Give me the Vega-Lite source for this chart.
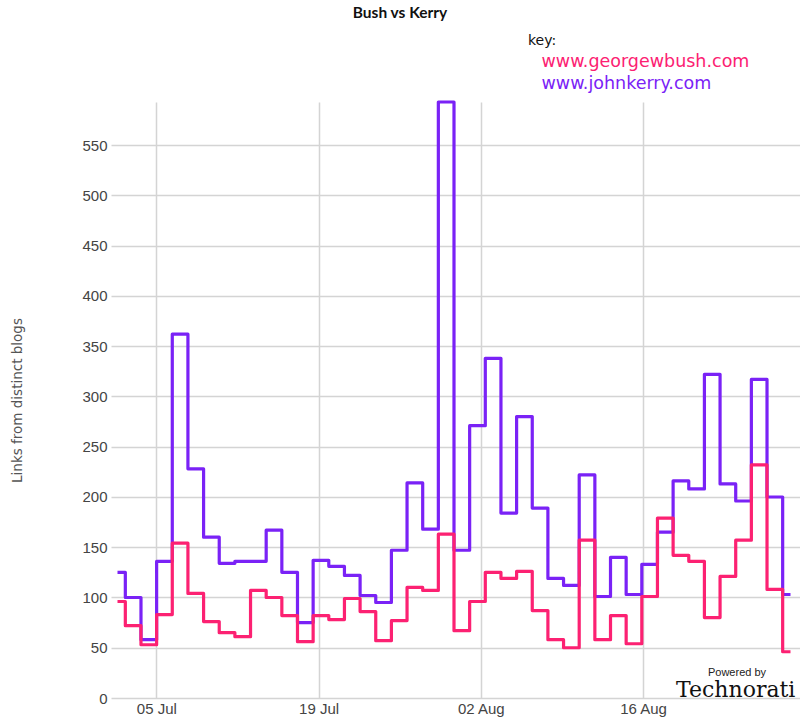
{
  "$schema": "https://vega.github.io/schema/vega-lite/v6.json",
  "autosize": {"type": "none"},
  "padding": {"left": 111, "top": 102, "right": 0, "bottom": 20},
  "width": 689,
  "height": 596,
  "background": "white",
  "title": {"text": "Bush vs Kerry", "font": "Lato", "fontSize": 15.5, "fontWeight": "bold", "color": "#111", "anchor": "middle", "dx": -55.5, "offset": 13},
  "config": {"view": {"stroke": null}},
  "layer": [
    {
      "data": {"values": [
        {"date": "2004-07-01T15:39", "site": "www.johnkerry.com", "links": 125},
        {"date": "2004-07-03T00:04", "site": "www.johnkerry.com", "links": 100},
        {"date": "2004-07-04T08:28", "site": "www.johnkerry.com", "links": 58},
        {"date": "2004-07-05T16:53", "site": "www.johnkerry.com", "links": 136},
        {"date": "2004-07-07T01:17", "site": "www.johnkerry.com", "links": 362},
        {"date": "2004-07-08T09:42", "site": "www.johnkerry.com", "links": 228},
        {"date": "2004-07-09T18:07", "site": "www.johnkerry.com", "links": 160},
        {"date": "2004-07-11T02:31", "site": "www.johnkerry.com", "links": 134},
        {"date": "2004-07-12T10:56", "site": "www.johnkerry.com", "links": 136},
        {"date": "2004-07-13T19:20", "site": "www.johnkerry.com", "links": 136},
        {"date": "2004-07-15T03:45", "site": "www.johnkerry.com", "links": 167},
        {"date": "2004-07-16T12:10", "site": "www.johnkerry.com", "links": 125},
        {"date": "2004-07-17T20:34", "site": "www.johnkerry.com", "links": 75},
        {"date": "2004-07-19T04:59", "site": "www.johnkerry.com", "links": 137},
        {"date": "2004-07-20T13:23", "site": "www.johnkerry.com", "links": 131},
        {"date": "2004-07-21T21:48", "site": "www.johnkerry.com", "links": 122},
        {"date": "2004-07-23T06:13", "site": "www.johnkerry.com", "links": 102},
        {"date": "2004-07-24T14:37", "site": "www.johnkerry.com", "links": 95},
        {"date": "2004-07-25T23:02", "site": "www.johnkerry.com", "links": 147},
        {"date": "2004-07-27T07:26", "site": "www.johnkerry.com", "links": 214},
        {"date": "2004-07-28T15:51", "site": "www.johnkerry.com", "links": 168},
        {"date": "2004-07-30T00:16", "site": "www.johnkerry.com", "links": 593},
        {"date": "2004-07-31T08:40", "site": "www.johnkerry.com", "links": 147},
        {"date": "2004-08-01T17:05", "site": "www.johnkerry.com", "links": 271},
        {"date": "2004-08-03T01:29", "site": "www.johnkerry.com", "links": 338},
        {"date": "2004-08-04T09:54", "site": "www.johnkerry.com", "links": 184},
        {"date": "2004-08-05T18:19", "site": "www.johnkerry.com", "links": 280},
        {"date": "2004-08-07T02:43", "site": "www.johnkerry.com", "links": 189},
        {"date": "2004-08-08T11:08", "site": "www.johnkerry.com", "links": 119},
        {"date": "2004-08-09T19:32", "site": "www.johnkerry.com", "links": 112},
        {"date": "2004-08-11T03:57", "site": "www.johnkerry.com", "links": 222},
        {"date": "2004-08-12T12:22", "site": "www.johnkerry.com", "links": 101},
        {"date": "2004-08-13T20:46", "site": "www.johnkerry.com", "links": 140},
        {"date": "2004-08-15T05:11", "site": "www.johnkerry.com", "links": 103},
        {"date": "2004-08-16T13:35", "site": "www.johnkerry.com", "links": 133},
        {"date": "2004-08-17T22:00", "site": "www.johnkerry.com", "links": 165},
        {"date": "2004-08-19T06:25", "site": "www.johnkerry.com", "links": 216},
        {"date": "2004-08-20T14:49", "site": "www.johnkerry.com", "links": 208},
        {"date": "2004-08-21T23:14", "site": "www.johnkerry.com", "links": 322},
        {"date": "2004-08-23T07:38", "site": "www.johnkerry.com", "links": 213},
        {"date": "2004-08-24T16:03", "site": "www.johnkerry.com", "links": 196},
        {"date": "2004-08-26T00:28", "site": "www.johnkerry.com", "links": 317},
        {"date": "2004-08-27T08:52", "site": "www.johnkerry.com", "links": 200},
        {"date": "2004-08-28T17:17", "site": "www.johnkerry.com", "links": 103},
        {"date": "2004-07-01T15:39", "site": "www.georgewbush.com", "links": 96},
        {"date": "2004-07-03T00:04", "site": "www.georgewbush.com", "links": 72},
        {"date": "2004-07-04T08:28", "site": "www.georgewbush.com", "links": 53},
        {"date": "2004-07-05T16:53", "site": "www.georgewbush.com", "links": 83},
        {"date": "2004-07-07T01:17", "site": "www.georgewbush.com", "links": 154},
        {"date": "2004-07-08T09:42", "site": "www.georgewbush.com", "links": 104},
        {"date": "2004-07-09T18:07", "site": "www.georgewbush.com", "links": 76},
        {"date": "2004-07-11T02:31", "site": "www.georgewbush.com", "links": 65},
        {"date": "2004-07-12T10:56", "site": "www.georgewbush.com", "links": 61},
        {"date": "2004-07-13T19:20", "site": "www.georgewbush.com", "links": 107},
        {"date": "2004-07-15T03:45", "site": "www.georgewbush.com", "links": 100},
        {"date": "2004-07-16T12:10", "site": "www.georgewbush.com", "links": 82},
        {"date": "2004-07-17T20:34", "site": "www.georgewbush.com", "links": 56},
        {"date": "2004-07-19T04:59", "site": "www.georgewbush.com", "links": 82},
        {"date": "2004-07-20T13:23", "site": "www.georgewbush.com", "links": 78},
        {"date": "2004-07-21T21:48", "site": "www.georgewbush.com", "links": 99},
        {"date": "2004-07-23T06:13", "site": "www.georgewbush.com", "links": 86},
        {"date": "2004-07-24T14:37", "site": "www.georgewbush.com", "links": 57},
        {"date": "2004-07-25T23:02", "site": "www.georgewbush.com", "links": 77},
        {"date": "2004-07-27T07:26", "site": "www.georgewbush.com", "links": 110},
        {"date": "2004-07-28T15:51", "site": "www.georgewbush.com", "links": 107},
        {"date": "2004-07-30T00:16", "site": "www.georgewbush.com", "links": 163},
        {"date": "2004-07-31T08:40", "site": "www.georgewbush.com", "links": 67},
        {"date": "2004-08-01T17:05", "site": "www.georgewbush.com", "links": 96},
        {"date": "2004-08-03T01:29", "site": "www.georgewbush.com", "links": 125},
        {"date": "2004-08-04T09:54", "site": "www.georgewbush.com", "links": 119},
        {"date": "2004-08-05T18:19", "site": "www.georgewbush.com", "links": 126},
        {"date": "2004-08-07T02:43", "site": "www.georgewbush.com", "links": 87},
        {"date": "2004-08-08T11:08", "site": "www.georgewbush.com", "links": 58},
        {"date": "2004-08-09T19:32", "site": "www.georgewbush.com", "links": 50},
        {"date": "2004-08-11T03:57", "site": "www.georgewbush.com", "links": 157},
        {"date": "2004-08-12T12:22", "site": "www.georgewbush.com", "links": 58},
        {"date": "2004-08-13T20:46", "site": "www.georgewbush.com", "links": 82},
        {"date": "2004-08-15T05:11", "site": "www.georgewbush.com", "links": 54},
        {"date": "2004-08-16T13:35", "site": "www.georgewbush.com", "links": 101},
        {"date": "2004-08-17T22:00", "site": "www.georgewbush.com", "links": 179},
        {"date": "2004-08-19T06:25", "site": "www.georgewbush.com", "links": 142},
        {"date": "2004-08-20T14:49", "site": "www.georgewbush.com", "links": 136},
        {"date": "2004-08-21T23:14", "site": "www.georgewbush.com", "links": 80},
        {"date": "2004-08-23T07:38", "site": "www.georgewbush.com", "links": 121},
        {"date": "2004-08-24T16:03", "site": "www.georgewbush.com", "links": 157},
        {"date": "2004-08-26T00:28", "site": "www.georgewbush.com", "links": 232},
        {"date": "2004-08-27T08:52", "site": "www.georgewbush.com", "links": 108},
        {"date": "2004-08-28T17:17", "site": "www.georgewbush.com", "links": 46}
      ]},
      "mark": {"type": "line", "interpolate": "step", "strokeWidth": 3.2, "strokeJoin": "round"},
      "encoding": {
        "x": {
          "field": "date", "type": "temporal",
          "scale": {"domain": [{"year": 2004, "month": 7, "date": 1, "hours": 2, "minutes": 11}, {"year": 2004, "month": 8, "date": 29, "hours": 12, "minutes": 58}]},
          "axis": {
            "title": null,
            "values": [{"year": 2004, "month": 7, "date": 5}, {"year": 2004, "month": 7, "date": 19}, {"year": 2004, "month": 8, "date": 2}, {"year": 2004, "month": 8, "date": 16}],
            "format": "%d %b",
            "grid": true, "gridColor": "#d4d4d4", "gridWidth": 1.5,
            "domain": false, "ticks": false,
            "labelFont": "Liberation Sans", "labelFontSize": 15, "labelColor": "#444", "labelPadding": 3
          }
        },
        "y": {
          "field": "links", "type": "quantitative",
          "scale": {"domain": [0, 593], "nice": false},
          "axis": {
            "title": "Links from distinct blogs",
            "titleFont": "DejaVu Sans", "titleFontSize": 13.5, "titleFontWeight": "normal", "titleColor": "#555",
            "titleX": -87,
            "values": [0, 50, 100, 150, 200, 250, 300, 350, 400, 450, 500, 550],
            "grid": true, "gridColor": "#d4d4d4", "gridWidth": 1.5,
            "domain": false, "ticks": false,
            "labelFont": "Liberation Sans", "labelFontSize": 15, "labelColor": "#444", "labelPadding": 4
          }
        },
        "color": {
          "field": "site", "type": "nominal",
          "scale": {"domain": ["www.georgewbush.com", "www.johnkerry.com"], "range": ["#fc2172", "#7a22f6"]},
          "legend": {
            "orient": "none", "legendX": 417, "legendY": -68,
            "title": "key:", "titleFont": "DejaVu Sans", "titleFontSize": 14, "titleFontWeight": "normal", "titleColor": "#111", "titlePadding": 5,
            "labelFont": "DejaVu Sans", "labelFontSize": 17.5, "labelOffset": -4, "labelLimit": 400, "rowPadding": 3.5,
            "symbolSize": 0, "symbolOpacity": 0, "symbolStrokeWidth": 0,
            "encode": {"labels": {"update": {"fill": {"scale": "color", "field": "value"}}}}
          }
        }
      }
    },
    {
      "data": {"values": [{}]},
      "mark": {"type": "text", "text": "Powered by", "font": "Liberation Sans", "fontSize": 11, "color": "#222", "align": "center", "baseline": "middle"},
      "encoding": {
        "x": {"datum": {"year": 2004, "month": 8, "date": 24, "hours": 2, "minutes": 30}, "type": "temporal"},
        "y": {"datum": 25, "type": "quantitative"}
      }
    },
    {
      "data": {"values": [{}]},
      "mark": {"type": "text", "text": "Technorati", "font": "DejaVu Serif", "fontSize": 22, "color": "#111", "align": "left", "baseline": "middle"},
      "encoding": {
        "x": {"datum": {"year": 2004, "month": 8, "date": 18, "hours": 20, "minutes": 10}, "type": "temporal"},
        "y": {"datum": 8, "type": "quantitative"}
      }
    }
  ]
}
